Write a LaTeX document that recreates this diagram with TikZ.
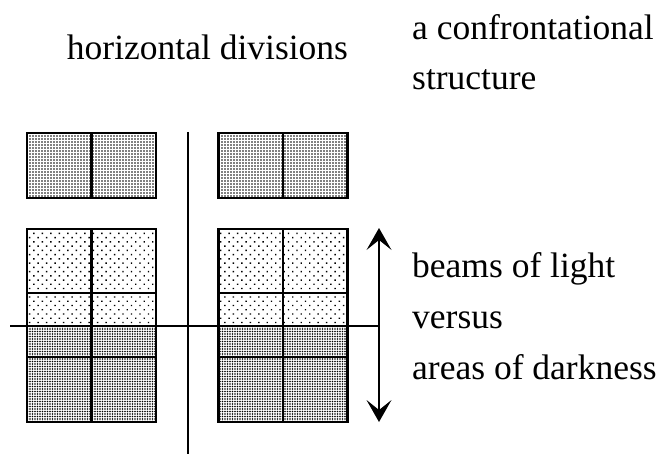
\documentclass[tikz,border=0pt]{standalone}
\usepackage{fontspec}
\setmainfont{Liberation Serif}
\usetikzlibrary{patterns.meta,arrows.meta}
\tikzset{bigtip/.tip={Stealth[length=22pt,width=25pt,inset=10pt,line width=0pt]}}
\begin{document}
\begin{tikzpicture}[x=1pt,y=-1pt,
  cellbox/.style={draw, line width=2.2pt, minimum width=129pt, inner sep=0pt, outer sep=0pt},
  toppat/.style={pattern={Dots[distance=3pt,radius=0.8pt]}},
  lightpat/.style={pattern={Dots[distance=6pt,radius=1pt,angle=45]}},
  darkpat/.style={pattern={Dots[distance=2.5pt,radius=0.8pt]}},
  axis/.style={line width=1.8pt},
  lbl/.style={anchor=base west, inner sep=0pt, font=\fontsize{35.5}{42}\selectfont}]
\useasboundingbox (0,0) rectangle (660,454);
% top boxes
\node[cellbox, toppat, minimum height=65pt] (LT) at (91.5,165.5) {};
\node[cellbox, toppat, minimum height=65pt] (RT) at (283,165.5) {};
% left bottom box rows
\node[cellbox, lightpat, minimum height=64pt] (L1) at (91.5,261) {};
\node[cellbox, lightpat, minimum height=33pt] (L2) at (91.5,309.5) {};
\node[cellbox, darkpat, minimum height=31pt] (L3) at (91.5,341.5) {};
\node[cellbox, darkpat, minimum height=65pt] (L4) at (91.5,389.5) {};
% right bottom box rows
\node[cellbox, lightpat, minimum height=64pt] (R1) at (283,261) {};
\node[cellbox, lightpat, minimum height=33pt] (R2) at (283,309.5) {};
\node[cellbox, darkpat, minimum height=31pt] (R3) at (283,341.5) {};
\node[cellbox, darkpat, minimum height=65pt] (R4) at (283,389.5) {};
% dividers
\draw[line width=2.2pt] (LT.north) -- (LT.south);
\draw[line width=2.2pt] (RT.north) -- (RT.south);
\draw[line width=2.2pt] (L1.north) -- (L4.south);
\draw[line width=2.2pt] (R1.north) -- (R4.south);
% axes
\coordinate (vtop) at (188,132);
\coordinate (vbot) at (188,454);
\coordinate (hleft) at (10,326);
\coordinate (aup) at (379,228);
\coordinate (adown) at (379,422);
\coordinate (hright) at (379,326);
\draw[axis] (vtop) -- (vbot);
\draw[axis] (hleft) -- (hright);
\draw[axis, bigtip-bigtip] (aup) -- (adown);
% labels
\node[lbl, anchor=base] (t1) at (207.5,60) {horizontal divisions};
\node[lbl] (t2) at (412,40) {a confrontational};
\node[lbl] (t3) at (412,90) {structure};
\node[lbl] (t4) at (412,277) {beams of light};
\node[lbl] (t5) at (412,328) {versus};
\node[lbl] (t6) at (412,379) {areas of darkness};
\end{tikzpicture}
\end{document}
